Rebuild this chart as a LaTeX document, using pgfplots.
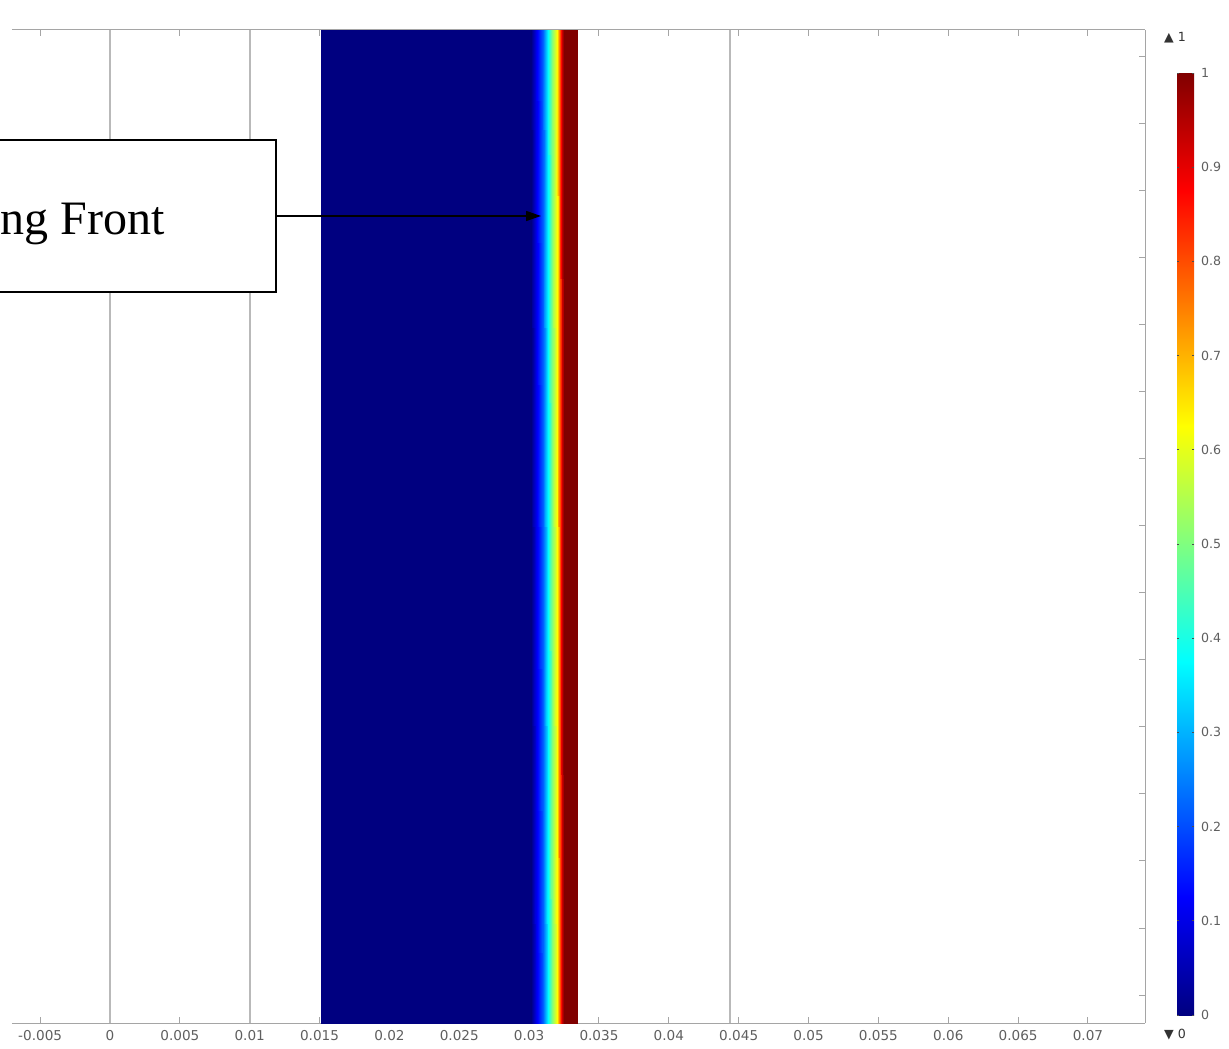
\documentclass[border=0pt]{standalone}
\usepackage{fontspec}
\setmainfont{Liberation Serif}
\newfontfamily\dejavu{DejaVu Sans}
\usepackage{pgfplots}
\pgfplotsset{compat=1.18}
\usetikzlibrary{arrows.meta}
\definecolor{axgray}{RGB}{165,165,165}
\definecolor{labgray}{RGB}{95,95,95}
\definecolor{geomgray}{RGB}{185,185,185}
\begin{document}
\begin{tikzpicture}
\begin{axis}[
  scale only axis,
  width=566.5pt, height=496.5pt,
  xmin=-0.007015, xmax=0.074082,
  ymin=0, ymax=993,
  axis x line*=box, axis y line*=right,
  axis line style={axgray, line width=0.5pt},
  tick style={axgray, line width=0.5pt},
  tick align=inside,
  major tick length=3pt,
  xtick={-0.005,0,0.005,0.01,0.015,0.02,0.025,0.03,0.035,0.04,0.045,0.05,0.055,0.06,0.065,0.07},
  scaled x ticks=false,
  xticklabel style={/pgf/number format/fixed, /pgf/number format/precision=3},
  /pgf/number format/assume math mode=true,
  ticklabel style={font=\dejavu\fontsize{6.8}{8}\selectfont, text=labgray},
  ytick={28,95,162,229,296,363,430,497,564,631,698,765,832,899,966},
  yticklabels={},
  clip=false,
  colormap/jet,
  point meta min=0, point meta max=1,
  colorbar,
  colorbar style={
    scale only axis,
    at={(parent axis.north east)}, anchor=north west,
    xshift=7.5pt, yshift=-21.5pt,
    width=8.5pt, height=471pt,
    axis line style={draw=none},
    ytick={0,0.1,0.2,0.3,0.4,0.5,0.6,0.7,0.8,0.9,1},
    yticklabel style={font=\dejavu\fontsize{6.3}{7}\selectfont, text=labgray, /pgf/number format/fixed},
    /pgf/number format/assume math mode=true,
    tick align=inside,
    major tick length=1.2pt,
    tick style={black!70, line width=0.4pt},
  },
]
\addplot[geomgray, line width=1.1pt] coordinates {(0,0) (0,993)};
\addplot[geomgray, line width=1.1pt] coordinates {(0.01,0) (0.01,993)};
\addplot[geomgray, line width=1.1pt] coordinates {(0.0444,0) (0.0444,993)};
\addplot[surf, shader=interp, mesh/cols=11, point meta=explicit] table[meta=c] {
x y c
0.0151 0 0
0.0301 0 0
0.03049 0 0.1
0.03099 0 0.22
0.03135 0 0.375
0.03164 0 0.5
0.03199 0 0.625
0.03221 0 0.8
0.03235 0 0.93
0.0325 0 1
0.03343 0 1
0.0151 993 0
0.0301 993 0
0.03049 993 0.1
0.03099 993 0.22
0.03135 993 0.375
0.03164 993 0.5
0.03199 993 0.625
0.03221 993 0.8
0.03235 993 0.93
0.0325 993 1
0.03343 993 1
};
\draw[black, line width=0.9pt, fill=white] (axis cs:-0.00823,883) rectangle (axis cs:0.01188,731);
\node[anchor=base west, inner sep=0pt, font=\fontsize{24}{28}\selectfont] at (axis cs:-0.00787,788) {ng Front};
\draw[black, line width=0.8pt, -{Triangle[length=7.5pt,width=5pt]}] (axis cs:0.01188,807) -- (axis cs:0.03085,807);
\node[font=\dejavu\fontsize{6.3}{7}\selectfont, text=black!80, inner sep=0pt] at (axis cs:0.07623,985) {▲ 1};
\node[font=\dejavu\fontsize{6.3}{7}\selectfont, text=black!80, inner sep=0pt] at (axis cs:0.07623,-12) {▼ 0};
\coordinate (TL) at (axis cs:-0.007873,1023);
\coordinate (BR) at (axis cs:0.080094,-25);
\end{axis}
\pgfresetboundingbox
\useasboundingbox (TL) rectangle (BR);
\end{tikzpicture}
\end{document}
